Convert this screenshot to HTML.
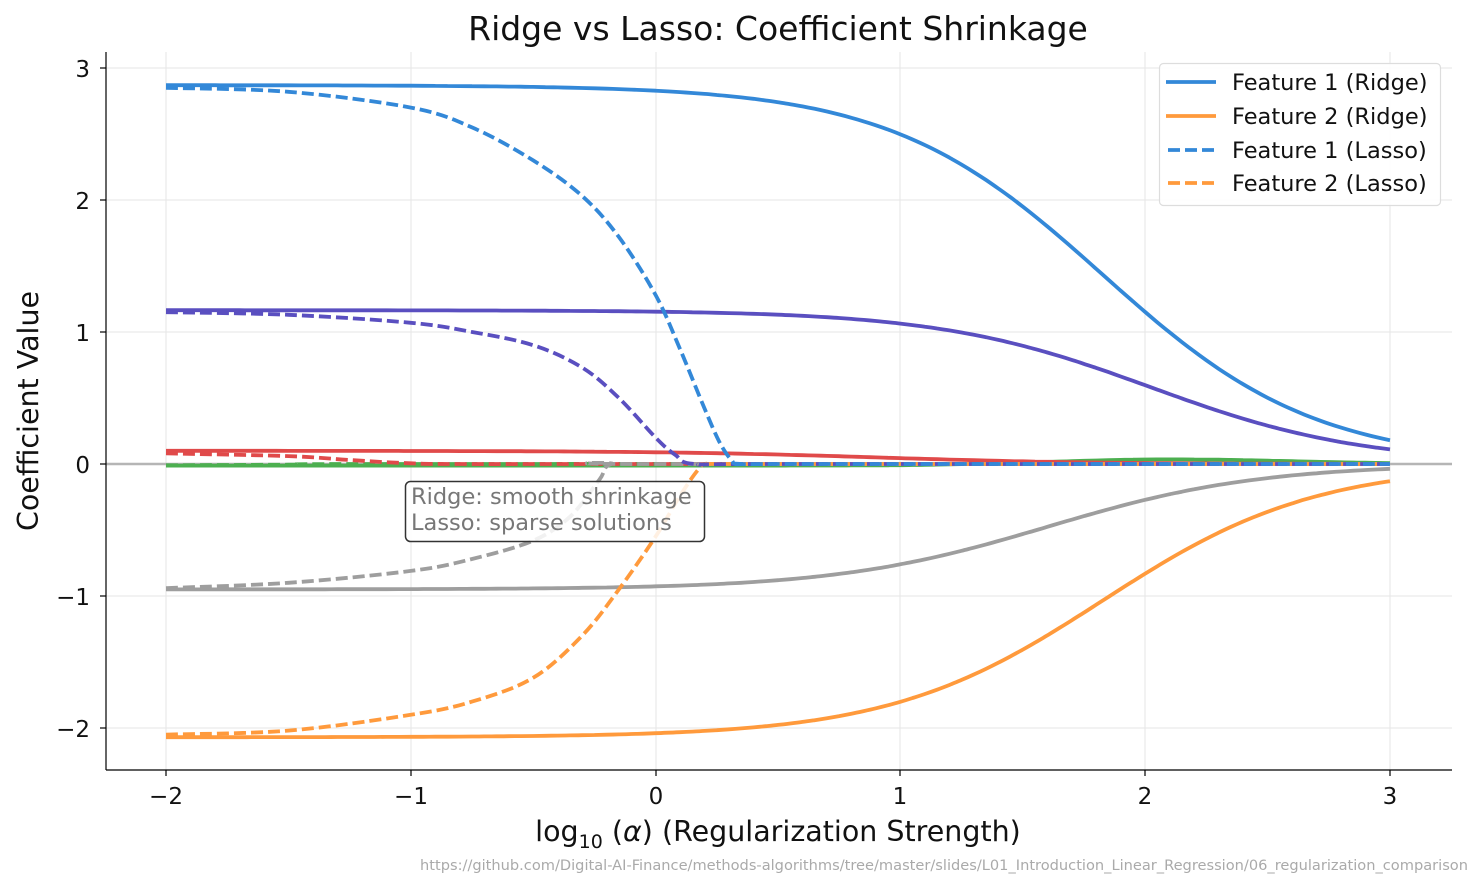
<!DOCTYPE html>
<html><head><meta charset="utf-8"><style>
body{margin:0;background:#fff}
svg{display:block;font-family:"DejaVu Sans","Liberation Sans",sans-serif}
</style></head><body>
<svg id="s" width="1484" height="889" viewBox="0 0 1484 889" xmlns="http://www.w3.org/2000/svg">
<rect width="1484" height="889" fill="#fff"/>
<g stroke="#e6e6e6" stroke-width="1">
<line x1="166" y1="52" x2="166" y2="770"/><line x1="411" y1="52" x2="411" y2="770"/><line x1="656" y1="52" x2="656" y2="770"/><line x1="900" y1="52" x2="900" y2="770"/><line x1="1145" y1="52" x2="1145" y2="770"/><line x1="1390" y1="52" x2="1390" y2="770"/>
<line x1="106" y1="68" x2="1452" y2="68"/><line x1="106" y1="200" x2="1452" y2="200"/><line x1="106" y1="332" x2="1452" y2="332"/><line x1="106" y1="596" x2="1452" y2="596"/><line x1="106" y1="728" x2="1452" y2="728"/>
</g>
<line x1="106" y1="464" x2="1452" y2="464" stroke="#b5b5b5" stroke-width="2.5"/>
<g id="series" fill="none" stroke-width="3.8" stroke-linejoin="round"></g>
<g stroke="#000" stroke-width="1.2">
<line x1="106" y1="52" x2="106" y2="770"/><line x1="106" y1="770" x2="1452" y2="770"/>
<line x1="166" y1="770" x2="166" y2="776"/><line x1="411" y1="770" x2="411" y2="776"/><line x1="656" y1="770" x2="656" y2="776"/><line x1="900" y1="770" x2="900" y2="776"/><line x1="1145" y1="770" x2="1145" y2="776"/><line x1="1390" y1="770" x2="1390" y2="776"/>
<line x1="100" y1="68" x2="106" y2="68"/><line x1="100" y1="200" x2="106" y2="200"/><line x1="100" y1="332" x2="106" y2="332"/><line x1="100" y1="464" x2="106" y2="464"/><line x1="100" y1="596" x2="106" y2="596"/><line x1="100" y1="728" x2="106" y2="728"/>
</g>
<g font-size="23" fill="#111" text-anchor="middle">
<text x="166" y="804">−2</text><text x="411" y="804">−1</text><text x="656" y="804">0</text><text x="900" y="804">1</text><text x="1145" y="804">2</text><text x="1390" y="804">3</text>
</g>
<g font-size="23" fill="#111" text-anchor="end">
<text x="90" y="77">3</text><text x="90" y="209">2</text><text x="90" y="341">1</text><text x="90" y="473">0</text><text x="90" y="605">−1</text><text x="90" y="737">−2</text>
</g>
<text x="778" y="40" font-size="33" text-anchor="middle" fill="#111">Ridge vs Lasso: Coefficient Shrinkage</text>
<text x="778" y="841" font-size="28.5" text-anchor="middle" fill="#111">log<tspan font-size="19" dy="7">10</tspan><tspan dy="-7"> (</tspan><tspan font-style="italic">α</tspan>) (Regularization Strength)</text>
<text transform="translate(38,411) rotate(-90)" font-size="28.5" text-anchor="middle" fill="#111">Coefficient Value</text>
<text x="1468" y="870" font-size="14.6" text-anchor="end" fill="#aaa">https://github.com/Digital-AI-Finance/methods-algorithms/tree/master/slides/L01_Introduction_Linear_Regression/06_regularization_comparison</text>
<rect x="405.5" y="481.5" width="299" height="60" rx="5" fill="#fff" fill-opacity="0.85" stroke="#333" stroke-width="1.5"/>
<text x="411" y="504" font-size="22.5" fill="#777">Ridge: smooth shrinkage</text>
<text x="411" y="530" font-size="22.5" fill="#777">Lasso: sparse solutions</text>
<rect x="1159.5" y="63.5" width="281" height="142" rx="4" fill="#fff" fill-opacity="0.85" stroke="#ddd" stroke-width="1.2"/>
<line x1="1166" y1="82" x2="1216" y2="82" stroke="#3388d8" stroke-width="3.8"/>
<line x1="1166" y1="116" x2="1216" y2="116" stroke="#ff9a3c" stroke-width="3.8"/>
<line x1="1168" y1="150" x2="1214" y2="150" stroke="#3388d8" stroke-width="3.8" stroke-dasharray="12 5"/>
<line x1="1168" y1="183" x2="1214" y2="183" stroke="#ff9a3c" stroke-width="3.8" stroke-dasharray="12 5"/>
<g font-size="22.5" fill="#111">
<text x="1232" y="90">Feature 1 (Ridge)</text><text x="1232" y="124">Feature 2 (Ridge)</text><text x="1232" y="158">Feature 1 (Lasso)</text><text x="1232" y="191">Feature 2 (Lasso)</text>
</g>
</svg>
<script>
var g=document.getElementById('series');
function X(v){return 166+(v+2)*244.8}function Y(v){return 464-v*132}
function ridge(c,k){var p=[];for(var t=-2;t<=3.0001;t+=0.05){p.push([t,c/(1+Math.pow(10,t)/k)]);}return p}
function path(pts){var d='M'+X(pts[0][0]).toFixed(1)+' '+Y(pts[0][1]).toFixed(1);
for(var i=0;i<pts.length-1;i++){var p0=pts[Math.max(0,i-1)],p1=pts[i],p2=pts[i+1],p3=pts[Math.min(pts.length-1,i+2)];
var a=[X(p0[0]),Y(p0[1])],b=[X(p1[0]),Y(p1[1])],c=[X(p2[0]),Y(p2[1])],e=[X(p3[0]),Y(p3[1])];
d+=' C'+(b[0]+(c[0]-a[0])/6).toFixed(1)+' '+(b[1]+(c[1]-a[1])/6).toFixed(1)+' '+(c[0]-(e[0]-b[0])/6).toFixed(1)+' '+(c[1]-(e[1]-b[1])/6).toFixed(1)+' '+c[0].toFixed(1)+' '+c[1].toFixed(1);}
return d}
function add(pts,col,dash){var p=document.createElementNS('http://www.w3.org/2000/svg','path');p.setAttribute('d',path(pts));p.setAttribute('stroke',col);if(dash)p.setAttribute('stroke-dasharray','12 5');g.appendChild(p)}
var B='#3388d8',O='#ff9a3c',P='#5a4fc0',R='#e04a4a',G='#4caf50',Gr='#9e9e9e';
var gr=[];for(var t=-2;t<=3.0001;t+=0.05){gr.push([t,-0.012+0.035*Math.exp(-Math.pow((t-2.1)/0.7,2))*1+0.012*Math.min(1,Math.max(0,(t-1)/1))]);}
add(gr,G);
add(ridge(0.1,8),R);
add(ridge(-0.95,40),Gr);
add(ridge(1.165,105),P);
add(ridge(-2.07,67),O);
add(ridge(2.87,67),B);
add([[-2,-0.01],[-1.5,-0.005],[-1,0],[3,0]],G,1);
add([[-2,0.08],[-1.5,0.06],[-1.25,0.03],[-1,0.005],[-0.8,0],[0,0],[3,0]],R,1);
add([[-2,-0.94],[-1.5,-0.9],[-1,-0.81],[-0.75,-0.72],[-0.5,-0.58],[-0.35,-0.4],[-0.23,-0.12],[-0.18,0],[0,0],[3,0]],Gr,1);
add([[-2,-2.05],[-1.5,-2.02],[-1,-1.9],[-0.75,-1.8],[-0.5,-1.62],[-0.3,-1.3],[-0.15,-0.95],[0,-0.55],[0.1,-0.24],[0.18,-0.03],[0.22,0],[0.5,0],[3,0]],O,1);
add([[-2,1.15],[-1.5,1.13],[-1,1.07],[-0.75,1.0],[-0.5,0.9],[-0.3,0.73],[-0.15,0.5],[0,0.2],[0.08,0.07],[0.16,0],[0.5,0],[3,0]],P,1);
add([[-2,2.85],[-1.5,2.82],[-1,2.7],[-0.75,2.55],[-0.5,2.3],[-0.3,2.03],[-0.15,1.72],[0,1.28],[0.1,0.87],[0.2,0.42],[0.26,0.17],[0.31,0.03],[0.35,0],[0.6,0],[3,0]],B,1);
</script>
</body></html>
